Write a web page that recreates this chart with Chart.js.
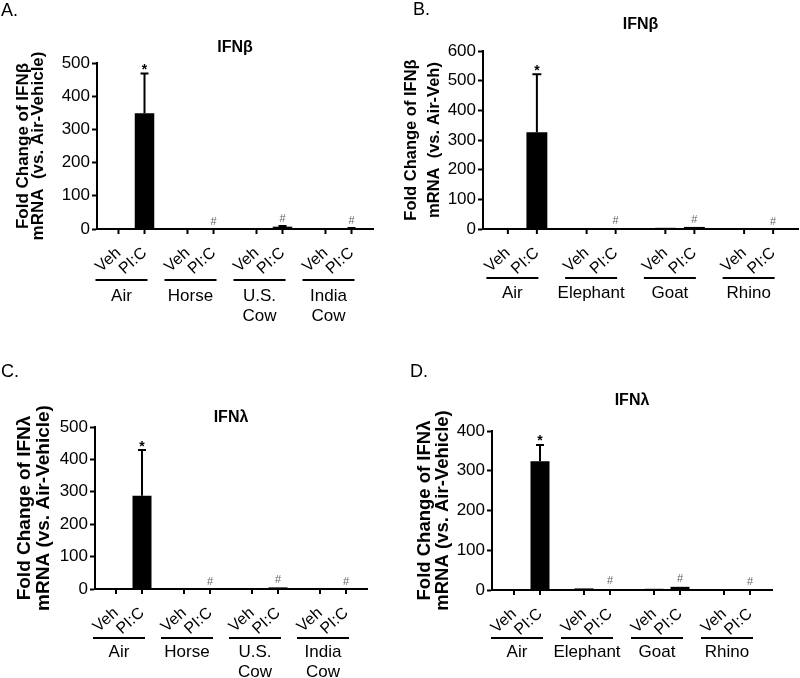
<!DOCTYPE html>
<html>
<head>
<meta charset="utf-8">
<script src="https://cdn.jsdelivr.net/npm/chart.js@4.4.0/dist/chart.umd.min.js"></script>
<style>
  html, body { margin: 0; padding: 0; background: #fff; }
  #wrap { position: relative; width: 800px; height: 678px; }
  canvas { position: absolute; }
</style>
</head>
<body>
<div id="wrap">
  <canvas id="chartA" width="400" height="330" style="left:0;top:0"></canvas>
  <canvas id="chartB" width="400" height="330" style="left:400px;top:0"></canvas>
  <canvas id="chartC" width="400" height="348" style="left:0;top:330px"></canvas>
  <canvas id="chartD" width="400" height="348" style="left:400px;top:330px"></canvas>
</div>
<script>
// treatments inside each group
const treatments = ['Veh', 'PI:C'];

// group names (multi-line allowed)
const groupsCow = [['Air'], ['Horse'], ['U.S.', 'Cow'], ['India', 'Cow']];
const groupsZoo = [['Air'], ['Elephant'], ['Goat'], ['Rhino']];

// A. IFNb, cow / horse dust
const ifnbCowVeh = [2, 0, 2, 2];
const ifnbCowVehErr = [0, 0, 0, 0];
const ifnbCowPic = [349, 0, 7, 2];
const ifnbCowPicErr = [119, 0, 2, 1];

// B. IFNb, zoo dust
const ifnbZooVeh = [1, 2, 4, 1];
const ifnbZooVehErr = [0, 0, 0, 0];
const ifnbZooPic = [326, 2, 7, 0];
const ifnbZooPicErr = [196, 0, 0, 0];

// C. IFNl, cow / horse dust
const ifnlCowVeh = [1, 0, 0, 0];
const ifnlCowVehErr = [0, 0, 0, 0];
const ifnlCowPic = [288, 0, 5, 0];
const ifnlCowPicErr = [141, 0, 0, 0];

// D. IFNl, zoo dust
const ifnlZooVeh = [2, 4, 3, 0];
const ifnlZooVehErr = [0, 0, 0, 0];
const ifnlZooPic = [324, 2, 8, 0];
const ifnlZooPicErr = [41, 0, 0, 0];

// significance marks over the PI:C bars
const marks = ['*', '#', '#', '#'];

const FONT = '"Liberation Sans", Arial, sans-serif';
const LABEL_ANGLE = -42 * Math.PI / 180;

// draws error bars, marks, per-bar labels, group lines and panel titles
const annotPlugin = {
    id: 'annot',
    afterDatasetsDraw(chart, args, o) {
        const ctx = chart.ctx;
        const area = chart.chartArea;
        const yScale = chart.scales.y;
        const metas = chart.data.datasets.map((ds, i) => chart.getDatasetMeta(i).data);
        ctx.save();
        ctx.fillStyle = '#000';
        ctx.strokeStyle = '#000';

        // error bars + marks
        chart.data.datasets.forEach((ds, i) => {
            metas[i].forEach((bar, j) => {
                const top = yScale.getPixelForValue(ds.data[j] + ds.err[j]);
                if (ds.err[j] > 0) {
                    ctx.lineWidth = 2;
                    ctx.beginPath();
                    ctx.moveTo(bar.x, bar.y);
                    ctx.lineTo(bar.x, top);
                    ctx.moveTo(bar.x - o.cap, top);
                    ctx.lineTo(bar.x + o.cap, top);
                    ctx.stroke();
                }
                if (ds.marks) {
                    const m = ds.marks[j];
                    ctx.textAlign = 'center';
                    ctx.textBaseline = 'middle';
                    if (m === '*') {
                        ctx.font = 'bold 14px ' + FONT;
                        ctx.fillStyle = '#000';
                        ctx.fillText(m, bar.x, top - o.starDy);
                    } else {
                        ctx.font = '11px ' + FONT;
                        ctx.fillStyle = '#666';
                        ctx.fillText(m, bar.x, top - o.hashDy);
                    }
                    ctx.fillStyle = '#000';
                }
            });
        });

        // x tick marks and slanted treatment labels
        chart.data.datasets.forEach((ds, i) => {
            metas[i].forEach(bar => {
                ctx.lineWidth = 2;
                ctx.beginPath();
                ctx.moveTo(bar.x, area.bottom);
                ctx.lineTo(bar.x, area.bottom + 5);
                ctx.stroke();

                ctx.save();
                ctx.translate(bar.x + o.lblDx, area.bottom + o.lblDy);
                ctx.rotate(LABEL_ANGLE);
                ctx.font = '16px ' + FONT;
                ctx.textAlign = 'right';
                ctx.textBaseline = 'alphabetic';
                ctx.fillText(ds.label, 0, 0);
                ctx.restore();
            });
        });

        // group underline + group name
        chart.data.labels.forEach((lab, j) => {
            const c = (metas[0][j].x + metas[1][j].x) / 2;
            const ly = area.bottom + o.lineDy;
            ctx.lineWidth = 2;
            ctx.beginPath();
            ctx.moveTo(c - 36, ly);
            ctx.lineTo(c + 16, ly);
            ctx.stroke();
            ctx.font = '17px ' + FONT;
            ctx.textAlign = 'center';
            ctx.textBaseline = 'middle';
            lab.forEach((line, k) => {
                ctx.fillText(line, c - 10, ly + o.nameDy + k * 20);
            });
        });

        // chart title and panel letter
        ctx.font = 'bold 16px ' + FONT;
        ctx.textAlign = 'center';
        ctx.textBaseline = 'middle';
        ctx.fillText(o.title, (area.left + area.right) / 2, area.top - o.titleDy);
        ctx.font = '18px ' + FONT;
        ctx.textAlign = 'left';
        ctx.fillText(o.letter, o.letterX, o.letterY);
        ctx.restore();
    }
};

function renderPanel(id, p) {
    const ctx = document.getElementById(id).getContext('2d');
    new Chart(ctx, {
        type: 'bar',
        data: {
            labels: p.groups,
            datasets: [
                {
                    label: treatments[0],
                    data: p.veh,
                    err: p.vehErr,
                    backgroundColor: '#000000',
                    borderWidth: 0,
                    categoryPercentage: p.cat,
                    barPercentage: p.bar
                },
                {
                    label: treatments[1],
                    data: p.pic,
                    err: p.picErr,
                    marks: marks,
                    backgroundColor: '#000000',
                    borderWidth: 0,
                    categoryPercentage: p.cat,
                    barPercentage: p.bar
                }
            ]
        },
        options: {
            responsive: false,
            animation: false,
            layout: { padding: { left: 0, right: p.padRight, top: p.padTop, bottom: 0 } },
            plugins: {
                legend: { display: false },
                tooltip: { enabled: false },
                annot: p.annot
            },
            scales: {
                x: {
                    ticks: { display: false },
                    grid: { display: false, drawTicks: false },
                    border: { display: true, color: '#000', width: 2 },
                    afterFit: s => { s.height = p.xHeight; }
                },
                y: {
                    min: 0,
                    max: p.max,
                    ticks: { stepSize: 100, color: '#000', padding: 2, font: { size: 17, family: FONT } },
                    grid: { drawOnChartArea: false, tickLength: 5, tickWidth: 2, tickColor: '#000' },
                    border: { color: '#000', width: 2 },
                    title: {
                        display: true,
                        text: p.yTitle,
                        color: '#000',
                        padding: { top: p.yTitlePad, bottom: 0 },
                        font: { size: p.yTitleSize, weight: 'bold', family: FONT, lineHeight: p.yTitleLh }
                    },
                    afterFit: s => { s.width = p.yWidth; }
                }
            }
        },
        plugins: [annotPlugin]
    });
}

renderPanel('chartA', {
    groups: groupsCow, veh: ifnbCowVeh, vehErr: ifnbCowVehErr, pic: ifnbCowPic, picErr: ifnbCowPicErr,
    max: 500, cat: 0.754, bar: 0.75,
    yTitle: ['Fold Change of IFN\u03b2', 'mRNA  (vs. Air-Vehicle)'], yTitleSize: 17, yTitleLh: 0.92, yTitlePad: 15,
    yWidth: 97, xHeight: 101, padTop: 63, padRight: 27,
    annot: { title: 'IFN\u03b2', titleDy: 15, letter: 'A.', letterX: 1, letterY: 11,
        cap: 4, starDy: 3, hashDy: 7, lblDx: 3, lblDy: 25, lineDy: 51, nameDy: 16 }
});

renderPanel('chartB', {
    groups: groupsZoo, veh: ifnbZooVeh, vehErr: ifnbZooVehErr, pic: ifnbZooPic, picErr: ifnbZooPicErr,
    max: 600, cat: 0.737, bar: 0.72,
    yTitle: ['Fold Change of IFN\u03b2', 'mRNA  (vs. Air-Veh)'], yTitleSize: 16.5, yTitleLh: 1.4, yTitlePad: 0,
    yWidth: 83, xHeight: 101, padTop: 51, padRight: 2,
    annot: { title: 'IFN\u03b2', titleDy: 26, letter: 'B.', letterX: 13, letterY: 10,
        cap: 4.5, starDy: 3, hashDy: 7, lblDx: 3, lblDy: 25, lineDy: 49, nameDy: 15 }
});

renderPanel('chartC', {
    groups: groupsCow, veh: ifnlCowVeh, vehErr: ifnlCowVehErr, pic: ifnlCowPic, picErr: ifnlCowPicErr,
    max: 500, cat: 0.765, bar: 0.73,
    yTitle: ['Fold Change of IFN\u03bb', 'mRNA (vs. Air-Vehicle)'], yTitleSize: 19, yTitleLh: 1.0, yTitlePad: 15.5,
    yWidth: 95, xHeight: 89, padTop: 97, padRight: 33,
    annot: { title: 'IFN\u03bb', titleDy: 9, letter: 'C.', letterX: 1, letterY: 42,
        cap: 4, starDy: 3, hashDy: 7, lblDx: 3, lblDy: 25, lineDy: 49, nameDy: 14 }
});

renderPanel('chartD', {
    groups: groupsZoo, veh: ifnlZooVeh, vehErr: ifnlZooVehErr, pic: ifnlZooPic, picErr: ifnlZooPicErr,
    max: 400, cat: 0.743, bar: 0.73,
    yTitle: ['Fold Change of IFN\u03bb', 'mRNA (vs. Air-Vehicle)'], yTitleSize: 18.5, yTitleLh: 1.0, yTitlePad: 15.5,
    yWidth: 92, xHeight: 88, padTop: 101, padRight: 28,
    annot: { title: 'IFN\u03bb', titleDy: 30, letter: 'D.', letterX: 10, letterY: 42,
        cap: 4, starDy: 4, hashDy: 8, lblDx: 3, lblDy: 25, lineDy: 48, nameDy: 14 }
});
</script>
</body>
</html>
